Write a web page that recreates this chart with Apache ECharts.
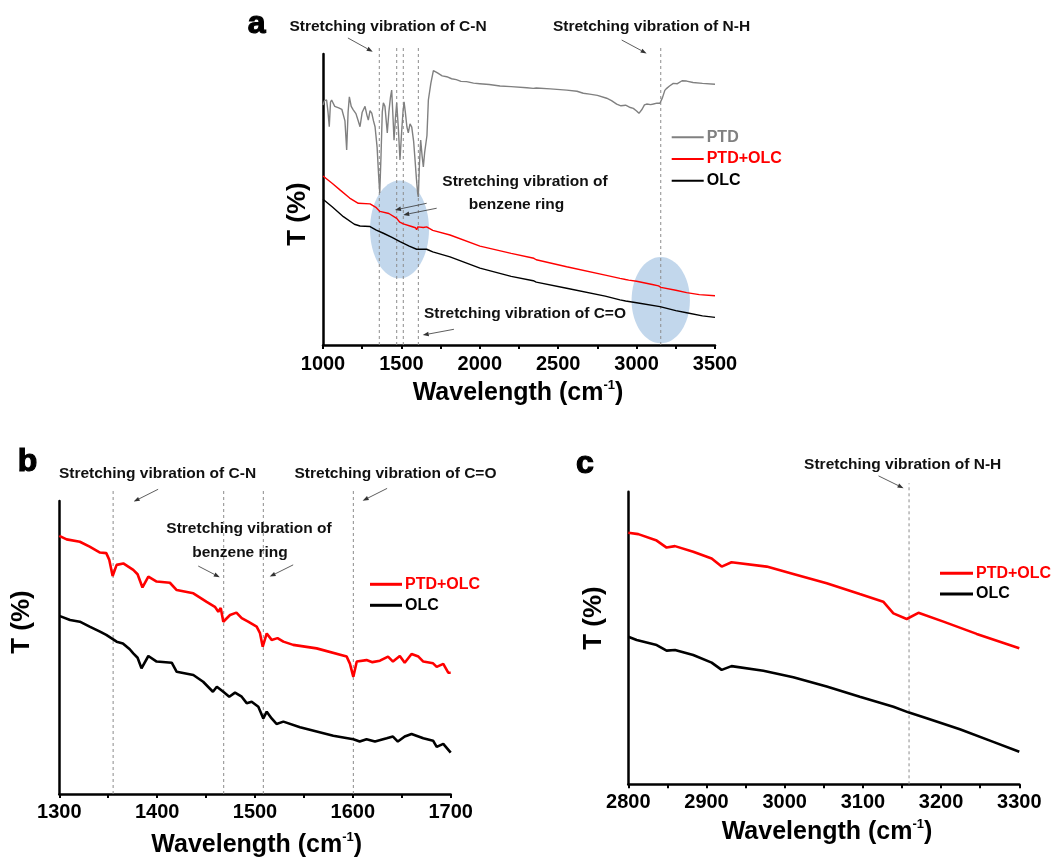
<!DOCTYPE html>
<html><head><meta charset="utf-8">
<script src="https://cdn.jsdelivr.net/npm/echarts/dist/echarts.min.js"></script>
<style>html,body{margin:0;padding:0;background:#fff}#main{width:1055px;height:859px}</style>
</head><body><div id="main"></div>
<script>
const FONT = 'Arial, "Liberation Sans", sans-serif';

// ---------- Panel a (full range) ----------
const ptdA = [[1000,82.5],[1010,84.0],[1023,84.2],[1032,80.0],[1040,75.0],[1048,83.5],[1055,84.2],[1075,82.0],[1100,81.5],[1120,81.0],[1130,80.8],[1140,77.0],[1151,67.0],[1160,80.0],[1168,85.3],[1180,82.0],[1193,80.8],[1210,79.5],[1225,77.0],[1236,75.0],[1250,80.0],[1268,82.0],[1280,79.0],[1289,77.3],[1300,80.5],[1311,79.7],[1322,77.0],[1332,75.0],[1345,68.0],[1355,58.0],[1362,52.2],[1370,65.0],[1378,80.0],[1385,83.2],[1395,82.0],[1410,72.9],[1420,80.0],[1430,85.0],[1438,87.6],[1445,80.0],[1453,70.4],[1462,78.0],[1470,83.2],[1480,75.0],[1491,63.6],[1500,72.0],[1510,80.0],[1517,83.6],[1525,80.0],[1535,75.0],[1544,72.9],[1555,76.0],[1566,74.9],[1578,70.0],[1587,63.6],[1596,57.0],[1604,52.0],[1608,50.9],[1615,62.0],[1623,70.4],[1632,65.0],[1640,61.2],[1648,66.0],[1657,66.0],[1663,72.0],[1672,84.2],[1688,90.0],[1704,94.3],[1730,93.5],[1760,92.5],[1789,92.2],[1820,91.5],[1850,91.2],[1880,90.6],[1916,90.5],[1960,90.0],[2000,89.8],[2060,89.5],[2129,89.0],[2200,88.8],[2300,88.4],[2341,88.2],[2350,87.8],[2360,88.3],[2450,88.0],[2554,87.6],[2620,87.2],[2660,86.5],[2700,86.2],[2750,85.8],[2809,84.8],[2840,84.0],[2873,82.8],[2900,82.2],[2930,82.4],[2960,81.6],[2979,81.3],[3000,80.4],[3015,79.6],[3022,79.0],[3035,81.0],[3050,82.5],[3064,82.8],[3090,82.6],[3107,82.8],[3130,83.1],[3149,83.1],[3165,85.0],[3180,87.5],[3192,88.2],[3210,89.0],[3234,89.9],[3260,89.8],[3290,90.8],[3319,90.7],[3360,90.2],[3420,89.9],[3500,89.6]];
const ptdOlcA = [[1000,58.1],[1060,55.5],[1108,53.3],[1170,50.5],[1225,48.7],[1300,48.5],[1340,47.2],[1363,45.9],[1370,46.3],[1420,45.2],[1470,43.5],[1490,42.2],[1512,41.6],[1560,40.8],[1590,40.3],[1597,39.6],[1605,40.6],[1640,40.4],[1661,40.6],[1700,39.4],[1810,37.8],[2001,34.0],[2200,31.5],[2330,30.0],[2345,29.8],[2360,29.3],[2554,26.9],[2800,24.0],[2894,22.9],[2930,22.5],[2950,22.3],[3000,21.9],[3100,20.8],[3140,20.3],[3155,19.8],[3165,20.2],[3250,18.8],[3319,18.0],[3400,17.3],[3500,16.9]];
const olcA = [[1000,50.1],[1060,47.4],[1130,44.1],[1200,41.5],[1236,40.9],[1300,40.7],[1340,39.5],[1385,38.4],[1440,37.0],[1491,35.5],[1550,34.0],[1597,32.9],[1661,32.9],[1700,32.0],[1810,30.3],[2001,26.4],[2200,23.6],[2341,22.1],[2360,21.6],[2554,19.5],[2800,16.8],[2894,15.5],[2930,15.1],[3000,14.5],[3149,13.2],[3250,11.8],[3319,11.1],[3420,10.0],[3500,9.5]];
const peaksA = [1359, 1470, 1512, 1608, 3154];

// ---------- Panel b (1300-1700) ----------
const ptdOlcB = [[1300,88.1],[1307.5,86.9],[1321,86.1],[1331,84.4],[1341.6,82.4],[1348,82.2],[1351,80.0],[1354.5,74.4],[1358.6,78.2],[1365.4,78.7],[1375.6,76.5],[1380,75.0],[1385,70.5],[1391,74.2],[1399.5,72.5],[1413,72.1],[1420,69.6],[1437,68.5],[1450.6,65.6],[1459,63.9],[1462.5,62.2],[1465,63.5],[1467.6,58.8],[1474.5,61.1],[1481,61.9],[1486.4,60.0],[1493,58.8],[1501.7,57.1],[1505,55.0],[1507.9,50.3],[1512,54.8],[1517,52.6],[1523,53.2],[1529,52.0],[1539,50.9],[1563,49.7],[1593.7,46.9],[1597,44.5],[1600.5,40.0],[1604,45.2],[1614,45.7],[1620,45.0],[1627.7,45.5],[1636,46.9],[1641,45.2],[1648,47.1],[1653,44.8],[1660,47.8],[1667,46.9],[1672,45.2],[1682,44.6],[1685.7,43.4],[1692.4,44.4],[1697.5,41.4],[1700,41.4]];
const olcB = [[1300,60.8],[1311,59.4],[1321,58.8],[1331,57.1],[1341.6,55.4],[1348,54.3],[1358.6,52.0],[1365,51.4],[1372,49.4],[1375.6,48.0],[1380,46.5],[1384,42.9],[1391,47.1],[1399.5,45.2],[1414.9,44.8],[1420,41.7],[1437,40.6],[1447,38.3],[1457,34.9],[1461,36.6],[1467.6,34.9],[1473.7,33.2],[1479.6,34.6],[1486.4,33.2],[1491.5,31.0],[1496.6,31.5],[1503.4,29.8],[1508.5,25.8],[1512,28.1],[1517,25.8],[1522,23.9],[1529,24.7],[1546,22.8],[1580,19.9],[1600.5,18.7],[1607,17.9],[1614,18.7],[1622.6,17.9],[1634.6,19.0],[1641,19.6],[1646,17.9],[1653,19.6],[1660,20.5],[1672,19.0],[1682,18.2],[1685.7,16.1],[1692.4,17.1],[1700,14.1]];
const peaksB = [1355, 1468, 1508.5, 1600.5];

// ---------- Panel c (2800-3300) ----------
const ptdOlcC = [[2800,86.0],[2812.8,85.5],[2836.3,83.3],[2849,80.9],[2859.7,81.4],[2883,79.5],[2906.6,77.2],[2919.4,74.4],[2932,75.9],[2977,74.4],[3011,71.9],[3053.7,68.7],[3096,65.0],[3126,62.4],[3139,58.4],[3156,56.5],[3171,58.6],[3203,55.6],[3245.5,51.4],[3300,46.5]];
const olcC = [[2800,50.4],[2810.7,49.3],[2836.3,47.6],[2849,45.7],[2859.7,45.9],[2883,44.2],[2906.6,41.6],[2919.4,39.1],[2932,40.4],[2972.7,38.8],[3011,36.6],[3053.7,33.4],[3096,29.9],[3139,26.5],[3159,24.5],[3181.6,22.6],[3224,18.8],[3266.7,14.5],[3300,11.1]];
const peaksC = [3159];

// arrows: [x0, y0, x1, y1] in data units (tail -> head)
const arrowsA = [[1159,105.5,1317,100.8],[2905,104.8,3064,100.2],[1661,48.7,1459,46.4],[1725,47.0,1512,44.7],[1835,5.4,1636,3.4]];
const arrowsB = [[1401,104.0,1376,99.8],[1635,104.3,1610,100.1],[1442,77.8,1464,74.0],[1539,78.2,1515,74.2]];
const arrowsC = [[3120,105.4,3152,101.2]];

// highlighted regions in panel a: [cx, cy, rx, ry] (data units)
const regionsA = [[1488,39.7,188,16.8],[3154,15.4,186,14.8]];

const GRAY = '#808080', RED = '#ff0000', BLACK = '#000000';

function xAxis(idx, min, max, interval, margin) {
  return {type:'value', gridIndex:idx, min, max, interval,
    axisLine:{show:true, onZero:false, lineStyle:{color:'#000', width:2.5}},
    axisTick:{show:true, length:4, lineStyle:{color:'#000', width:2}},
    minorTick:{show:true, splitNumber:2, length:4, lineStyle:{color:'#000', width:2}},
    axisLabel:{show:true, color:'#000', fontSize:20, fontWeight:'bold', fontFamily:FONT, margin,
      formatter: v => String(v)},
    splitLine:{show:false}, minorSplitLine:{show:false}};
}
function yAxis(idx) {
  return {type:'value', gridIndex:idx, min:0, max:100,
    axisLine:{show:true, onZero:false, lineStyle:{color:'#000', width:2.5}},
    axisTick:{show:false}, axisLabel:{show:false}, splitLine:{show:false}};
}
function line(name, data, color, width, idx) {
  return {type:'line', name, data, xAxisIndex:idx, yAxisIndex:idx, showSymbol:false, symbol:'none',
    color, lineStyle:{color, width}, itemStyle:{color}, z:3, silent:true, animation:false};
}
function legend(left, top, gap, iw, ih, items) {
  return {show:true, orient:'vertical', left, top, itemGap:gap, itemWidth:iw, itemHeight:ih, icon:'rect',
    selectedMode:false, padding:0,
    textStyle:{fontSize:16, fontWeight:'bold', fontFamily:FONT, lineHeight:16, padding:[0,0,0,-2]},
    data: items.map(([n,c]) => ({name:n, textStyle:{color:c}}))};
}
function note(t, x, y) {
  return {type:'text', x, y, silent:true, z:10,
    style:{text:t, fill:'#111', font:'bold 15.5px ' + FONT, align:'center', verticalAlign:'middle'}};
}
function letter(t, x, y) {
  return {type:'text', x, y, silent:true, z:10,
    style:{text:t, fill:'#000', font:'bold 32px ' + FONT, align:'center', verticalAlign:'middle',
      stroke:'#000', lineWidth:1.2, lineJoin:'round'}};
}
function xTitle(x, y) {
  return {type:'text', x, y, silent:true, z:10,
    style:{text:'{m|Wavelength (cm}{s|-1}{m|)}', align:'center', verticalAlign:'middle',
      rich:{m:{fontSize:25, fontWeight:'bold', fontFamily:FONT, fill:'#000', color:'#000', lineHeight:28},
            s:{fontSize:13, fontWeight:'bold', fontFamily:FONT, fill:'#000', color:'#000', verticalAlign:'top', lineHeight:28}}}};
}
function yTitle(x, y) {
  return {type:'text', x, y, rotation:Math.PI/2, silent:true, z:10,
    style:{text:'T (%)', fill:'#000', font:'bold 26px ' + FONT, align:'center', verticalAlign:'middle'}};
}

const chart = echarts.init(document.getElementById('main'), null, {renderer:'canvas'});
const option = {
  backgroundColor:'#fff',
  animation:false,
  grid:[
    {left:323, top:54, width:392, height:291, outerBoundsMode:'none', containLabel:false},
    {left:59.3, top:501, width:391.4, height:293, outerBoundsMode:'none', containLabel:false},
    {left:628.3, top:491.7, width:391, height:292.6, outerBoundsMode:'none', containLabel:false}
  ],
  xAxis:[xAxis(0,1000,3500,500,9), xAxis(1,1300,1700,100,8), xAxis(2,2800,3300,100,8)],
  yAxis:[yAxis(0), yAxis(1), yAxis(2)],
  legend:[
    legend(671.7, 129.3, 5.7, 32, 2, [['PTD',GRAY],['PTD+OLC',RED],['OLC',BLACK]]),
    legend(370, 576.3, 5, 32, 3, [['PTD+OLC',RED],['OLC',BLACK]]),
    legend(940, 565.3, 4.7, 33, 3, [['PTD+OLC',RED],['OLC',BLACK]])
  ],
  series:[
    line('PTD', ptdA, GRAY, 1.4, 0), line('PTD+OLC', ptdOlcA, RED, 1.4, 0), line('OLC', olcA, BLACK, 1.4, 0),
    line('PTD+OLC', ptdOlcB, RED, 2.6, 1), line('OLC', olcB, BLACK, 2.6, 1),
    line('PTD+OLC', ptdOlcC, RED, 2.6, 2), line('OLC', olcC, BLACK, 2.6, 2)
  ],
  graphic:[]
};
chart.setOption(option);

// annotation overlays, placed through the grids' own scales
const px = (gi, x, y) => chart.convertToPixel({gridIndex:gi}, [x, y]);
const g = [];
regionsA.forEach(r => {
  const c = px(0, r[0], r[1]);
  const e = px(0, r[0]+r[2], r[1]+r[3]);
  g.push({type:'ellipse', silent:true, z:-1,
    shape:{cx:c[0], cy:c[1], rx:Math.abs(e[0]-c[0]), ry:Math.abs(e[1]-c[1])},
    style:{fill:'#c2d7ec'}});
});
[[0, peaksA, 102.4], [1, peaksB, 103.8], [2, peaksC, 102.9]].forEach(([gi, peaks, top]) => {
  peaks.forEach(p => {
    const a = px(gi, p, 0), b = px(gi, p, top);
    g.push({type:'line', silent:true, z:1,
      shape:{x1:a[0], y1:a[1], x2:b[0], y2:b[1]},
      style:{stroke:'#8c8c8c', lineWidth:1, lineDash:[3,3]}});
  });
});
[[0, arrowsA], [1, arrowsB], [2, arrowsC]].forEach(([gi, list]) => {
  list.forEach(a => {
    const t = px(gi, a[0], a[1]), h = px(gi, a[2], a[3]);
    const dx = h[0]-t[0], dy = h[1]-t[1], L = Math.hypot(dx, dy);
    const ux = dx/L, uy = dy/L, nx = -uy, ny = ux, AL = 6, AW = 2.2;
    const bx = h[0]-ux*AL, by = h[1]-uy*AL;
    g.push({type:'line', silent:true, z:5,
      shape:{x1:t[0], y1:t[1], x2:bx, y2:by}, style:{stroke:'#333', lineWidth:0.8}});
    g.push({type:'polygon', silent:true, z:5,
      shape:{points:[[h[0],h[1]],[bx+nx*AW, by+ny*AW],[bx-nx*AW, by-ny*AW]]}, style:{fill:'#333'}});
  });
});
g.push(
  note('Stretching vibration of C-N', 388, 27),
  note('Stretching vibration of N-H', 651.5, 27),
  note('Stretching vibration of', 525, 181.5),
  note('benzene ring', 516.5, 205),
  note('Stretching vibration of C=O', 525, 314),
  note('Stretching vibration of C-N', 157.5, 474),
  note('Stretching vibration of C=O', 395.5, 474),
  note('Stretching vibration of', 249, 528.3),
  note('benzene ring', 240, 552.7),
  note('Stretching vibration of N-H', 902.7, 465),
  letter('a', 256.7, 24), letter('b', 27.5, 462), letter('c', 585, 464),
  xTitle(518, 393), xTitle(256.7, 845), xTitle(827, 832),
  yTitle(298, 214), yTitle(22, 622), yTitle(594, 618)
);
chart.setOption({graphic:g});
</script></body></html>
